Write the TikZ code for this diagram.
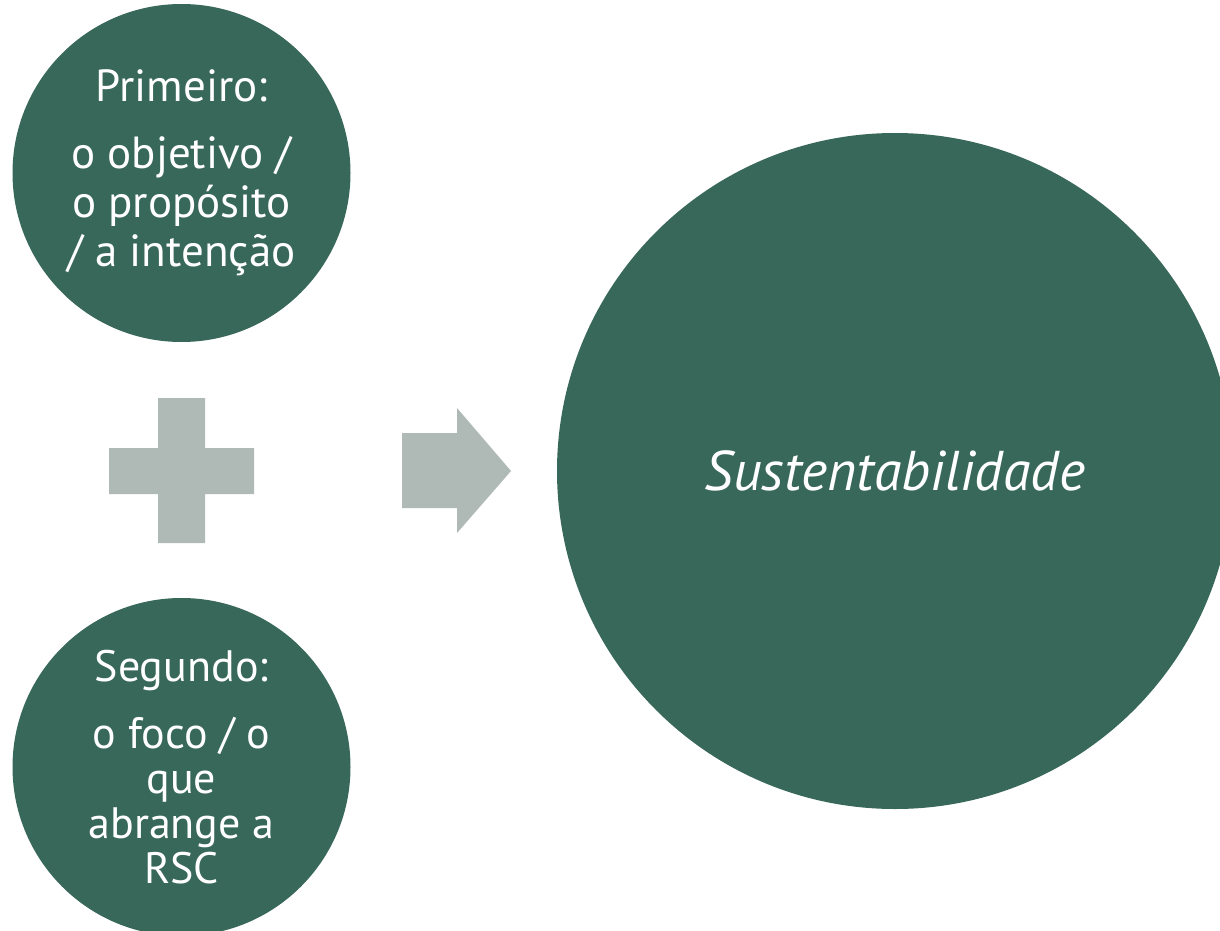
\documentclass[tikz,border=0pt]{standalone}
\usepackage{fontspec}
\setmainfont{PT Sans}
\definecolor{circlegreen}{RGB}{56,104,89}
\definecolor{signgray}{RGB}{175,185,181}
\begin{document}
\begin{tikzpicture}[x=1pt,y=-1pt,
  disc/.style={circle, fill=circlegreen, text=white, inner sep=0pt, align=center},
  smalltext/.style={font=\fontsize{45}{49}\selectfont},
  lowtext/.style={font=\fontsize{44}{45}\selectfont},
  bigtext/.style={font=\fontsize{56}{60}\selectfont\itshape},
  sign/.style={fill=signgray, draw=none}]
\useasboundingbox (0,0) rectangle (1220,931);
\clip (0,0) rectangle (1220,931);
% the two input discs on the left
\node[disc, smalltext, minimum size=338pt] (first) at (181.5,173)
  {Primeiro:\\[18pt]o objetivo /\\o propósito\\/ a intenção};
\node[disc, lowtext, minimum size=338pt] (second) at (181.5,767)
  {Segundo:\\[22pt]o foco / o\\que\\abrange a\\RSC};
% the result disc on the right
\node[disc, bigtext, minimum size=676pt] (result) at (895,471) {Sustentabilidade};
% plus sign between the inputs
\fill[sign] (158,398) -- (205,398) -- (205,448) -- (254,448) -- (254,494)
  -- (205,494) -- (205,543) -- (158,543) -- (158,494) -- (109,494)
  -- (109,448) -- (158,448) -- cycle;
% block arrow pointing to the result
\fill[sign] (402,433) -- (457,433) -- (457,408) -- (511,471) -- (457,533)
  -- (457,508) -- (402,508) -- cycle;
\end{tikzpicture}
\end{document}
